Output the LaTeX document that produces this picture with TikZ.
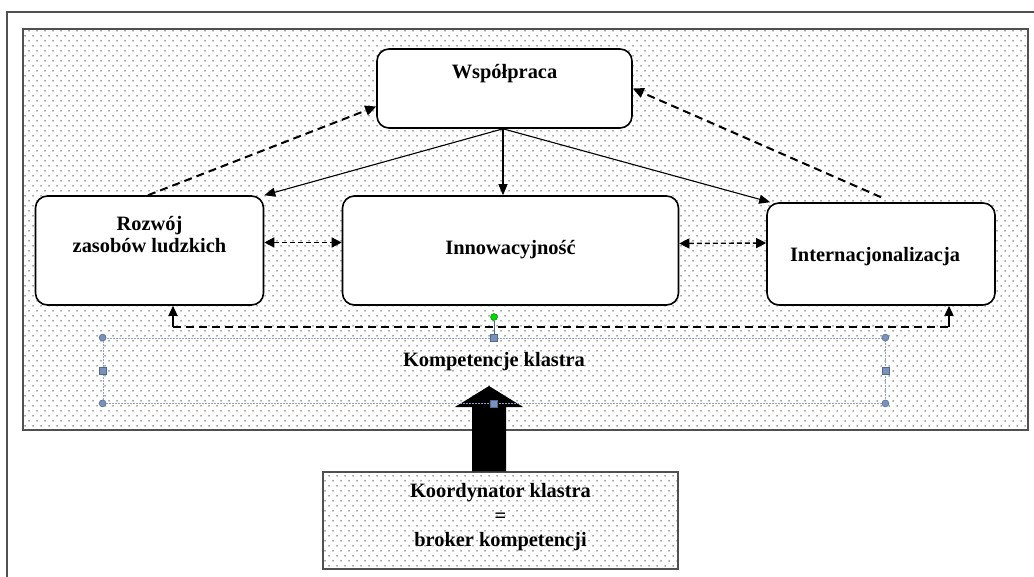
\documentclass[tikz,border=0pt]{standalone}
\usepackage{fontspec}
\setmainfont{Liberation Serif}
\usetikzlibrary{arrows.meta,patterns,calc}

\pgfdeclarepatternformonly{sparsedots}{\pgfqpoint{-1pt}{-1pt}}{\pgfqpoint{9pt}{11pt}}{\pgfqpoint{8pt}{10pt}}{%
  \pgfpathcircle{\pgfqpoint{1pt}{1pt}}{0.75pt}%
  \pgfpathcircle{\pgfqpoint{5pt}{6pt}}{0.75pt}%
  \pgfusepath{fill}}

\definecolor{framecol}{RGB}{80,80,80}
\definecolor{selblue}{RGB}{140,162,198}
\definecolor{handleblue}{RGB}{122,146,186}
\definecolor{handleedge}{RGB}{80,104,146}

\tikzset{
  dotted panel/.style={draw=framecol, line width=1.2pt,
    preaction={fill=white}, pattern=sparsedots, pattern color=black!70},
  box/.style={draw, line width=1.6pt, rounded corners=12pt, fill=white, inner sep=0pt},
  lbl/.style={font=\fontsize{20.4}{22}\selectfont\bfseries, align=center, inner sep=0pt},
  solidarrow/.style={line width=1.1pt, -{Triangle[length=11pt,width=9pt]}},
  stemarrow/.style={line width=1.4pt, -{Triangle[length=10pt,width=9pt]}},
  dasharrow/.style={line width=2pt, dash pattern=on 8pt off 5pt, -{Triangle[length=11pt,width=10pt]}},
  dashline/.style={line width=2pt, dash pattern=on 8pt off 5pt},
  dblarrow/.style={line width=1.4pt, dash pattern=on 5pt off 3pt,
    {Triangle[length=10pt,width=10pt]}-{Triangle[length=10pt,width=10pt]}},
  selbox/.style={draw=selblue, line width=0.8pt, dash pattern=on 2pt off 1pt, inner sep=0pt},
  roundhandle/.style={circle, fill=handleblue, draw=handleedge, line width=0.5pt, inner sep=0pt, minimum size=7pt},
  squarehandle/.style={rectangle, fill=handleblue, draw=handleedge, line width=0.5pt, inner sep=0pt, minimum size=7pt},
}

\begin{document}
\begin{tikzpicture}[x=1pt, y=-1pt]
\useasboundingbox (0,0) rectangle (1034,577);

% outer frame
\draw[framecol, line width=1.5pt] (7,577) -- (7,12) -- (1034,12);

% dotted panel
\path[dotted panel] (23,29) rectangle (1028,430);

% boxes
\node[box, minimum width=255pt, minimum height=79pt] (wsp) at (504.5,88.5) {};
\node[lbl] (wspt) at (504.5,74) {Współpraca};

\node[box, minimum width=228pt, minimum height=109pt] (roz) at (149.5,250.5) {};
\node[lbl] (rozt) at (149.5,235) {Rozwój\\zasobów ludzkich};

\node[box, minimum width=336pt, minimum height=109pt] (inn) at (510.5,250.5) {};
\node[lbl] (innt) at (510.5,250) {Innowacyjność};

\node[box, minimum width=228pt, minimum height=102pt] (int) at (881,254) {};
\node[lbl] (intt) at (875,257) {Internacjonalizacja};

% solid arrows from Współpraca
\coordinate (src) at ([xshift=-1.5pt]wsp.south);
\draw[solidarrow] (src) -- (roz.north east);
\draw[solidarrow] (src) -- (src |- inn.north);
\draw[solidarrow] (src) -- ([xshift=4pt]int.north west);

% dashed feedback arrows
\draw[dasharrow] ([xshift=-1.5pt]roz.north) -- ($(wsp.west)+(0,18)$);
\draw[dasharrow] ([yshift=5pt]int.north) -- (wsp.east);

% dashed double arrows
\draw[dblarrow] ($(roz.east)+(0,-8)$) -- ($(inn.west)+(0,-8)$);
\draw[dblarrow] ($(inn.east)+(0,-7)$) -- ($(int.west)+(0,-11)$);

% bottom dashed line with arrows up
\coordinate (dl) at (173,327);
\coordinate (dr) at (949,327);
\draw[dashline] (dl) -- (dr);
\draw[stemarrow] (dl) -- (roz.south -| dl);
\draw[stemarrow] (dr) -- (int.south -| dr);

% bottom box
\node[dotted panel, minimum width=355pt, minimum height=97pt, inner sep=0pt] (brk) at (500.5,520.5) {};
\node[lbl, font=\fontsize{20.4}{24.5}\selectfont\bfseries] (brkt) at (500.5,517.5) {Koordynator klastra\\=\\broker kompetencji};

% big arrow
\coordinate (tip) at (489,386);
\fill[black] (tip) -- ($(tip)+(34,21)$) -- ($(tip)+(17,21)$) -- ([xshift=17pt]tip |- brk.north)
  -- ([xshift=-17pt]tip |- brk.north) -- ($(tip)+(-17,21)$) -- ($(tip)+(-34,21)$) -- cycle;

% selection box
\node[selbox, minimum width=782pt, minimum height=65pt] (sel) at (494,370.5) {};
\node[lbl] (selt) at (494,362) {Kompetencje klastra};
\node[circle, fill=green!85!black, draw=green!50!black, line width=0.4pt, inner sep=0pt, minimum size=7pt] (rot) at (494,317) {};
\draw[handleedge, line width=0.6pt] (rot) -- (sel.north);
\foreach \a in {north west, north east, south west, south east}
  \node[roundhandle] at (sel.\a) {};
\foreach \a in {north, south, west, east}
  \node[squarehandle] at (sel.\a) {};
\end{tikzpicture}
\end{document}
